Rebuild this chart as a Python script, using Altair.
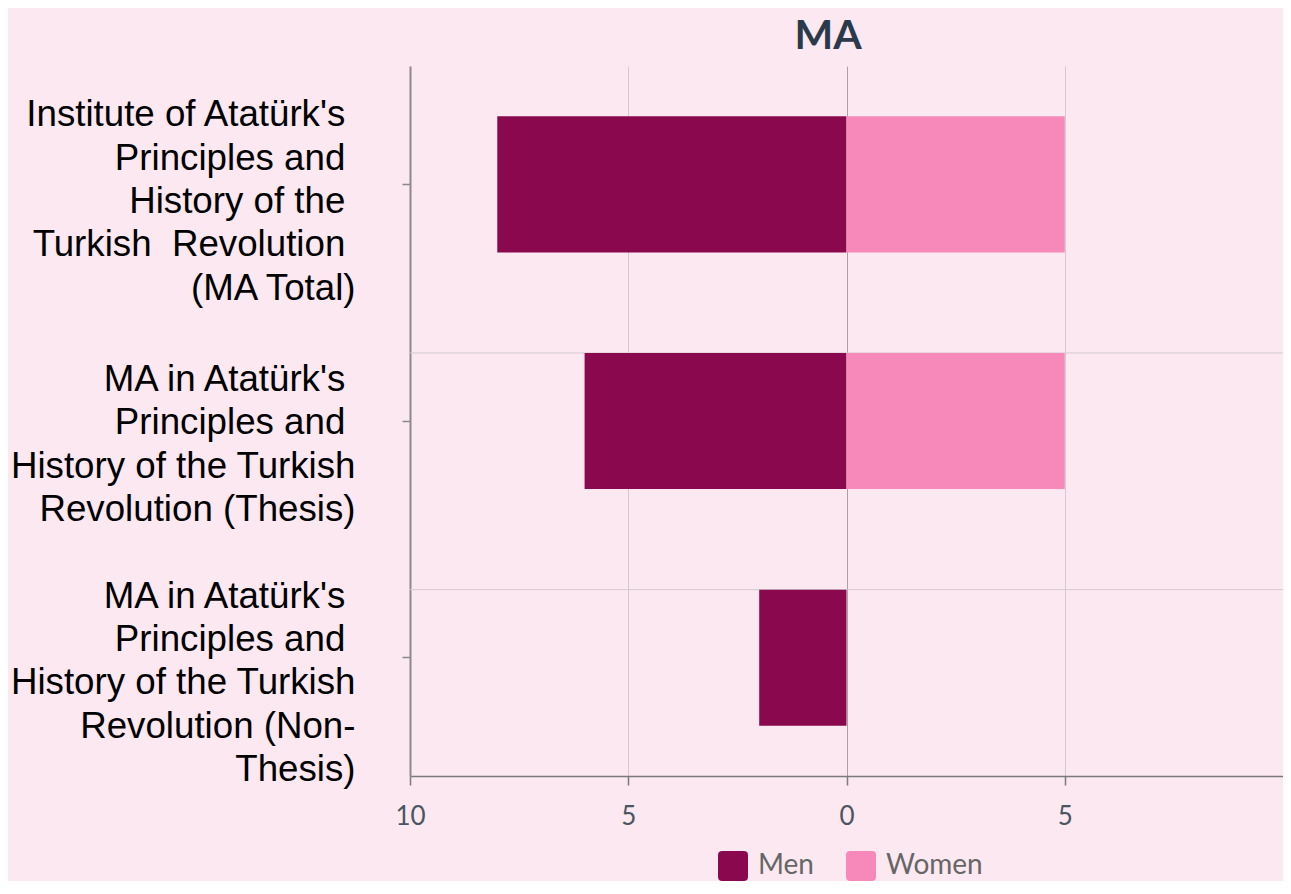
import altair as alt
import pandas as pd

SP = "\u00a0\u200b"
title_text = ["MA"]
categories = [
    f"Institute of Atatürk's{SP}|Principles and{SP}|History of the{SP}|Turkish\u00a0\u00a0Revolution{SP}|(MA Total)",
    f"MA in Atatürk's{SP}|Principles and{SP}|History of the Turkish|Revolution (Thesis)",
    f"MA in Atatürk's{SP}|Principles and{SP}|History of the Turkish|Revolution (Non-|Thesis)",
]
men = [8, 6, 2]
women = [5, 5, 0]
genders = ["Men", "Women"]
colors = ["#8a084d", "#f688ba"]
x_ticks = [-10, -5, 0, 5, 10]

rows = []
for c, m, w in zip(categories, men, women):
    rows.append({"category": c, "gender": "Men", "value": -m})
    rows.append({"category": c, "gender": "Women", "value": w})
df = pd.DataFrame(rows)
sep_df = pd.DataFrame({"category": categories[1:]})
title_df = pd.DataFrame({"t": title_text})

W, H = 873, 710

y_scale = alt.Scale(domain=categories, paddingInner=0.425, paddingOuter=0.2125)
y_axis = alt.Axis(
    title=None,
    labelExpr="split(datum.label, '|')",
    labelFont="Liberation Sans",
    labelFontSize=36.7,
    labelLineHeight=43.3,
    labelColor="#000000",
    labelAlign="right",
    labelBaseline="top",
    labelOffset={
        "condition": [
            {"test": "indexof(datum.value, 'MA Total') >= 0", "value": -87},
            {"test": "indexof(datum.value, 'Non-') >= 0", "value": -79},
        ],
        "value": -59,
    },
    labelPadding=47,
    labelLimit=0,
    tickSize=8,
    tickColor="#8a8a8a",
    tickWidth=1.5,
    domainColor="#8a8a8a",
    domainWidth=2,
    grid=False,
)

x_axis = alt.Axis(
    title=None,
    values=x_ticks,
    labelExpr="datum.value == 10 ? '' : format(abs(datum.value), 'd')",
    labelFont="Lato",
    labelFontSize=26,
    labelColor="#4b5561",
    labelPadding=18,
    labelFlush=False,
    tickSize=9,
    tickColor={"condition": {"test": "datum.value == 10", "value": "transparent"}, "value": "#7a7a7a"},
    tickWidth=1.5,
    domainColor="#7a7a7a",
    domainWidth=1.5,
    grid=True,
    gridColor={"condition": {"test": "datum.value == 0", "value": "#a9a1a6"}, "value": "#d3cacf"},
    gridWidth=1,
)

bars = alt.Chart(df).mark_bar().encode(
    x=alt.X("value:Q", scale=alt.Scale(domain=[-10, 10], nice=False), axis=x_axis),
    y=alt.Y("category:N", scale=y_scale, axis=y_axis),
    color=alt.Color(
        "gender:N",
        scale=alt.Scale(domain=genders, range=colors),
        legend=alt.Legend(
            title=None,
            orient="none",
            legendX=308,
            legendY=785,
            direction="horizontal",
            symbolType="M-1,-0.72Q-1,-1,-0.72,-1L0.72,-1Q1,-1,1,-0.72L1,0.72Q1,1,0.72,1L-0.72,1Q-1,1,-1,0.72Z",
            symbolSize=900,
            symbolStrokeWidth=0,
            symbolOpacity=1,
            labelFont="Lato",
            labelFontSize=28,
            labelColor="#666666",
            labelOffset=10,
            columnPadding=32,
            padding=0,
        ),
    ),
)

seps = alt.Chart(sep_df).mark_rule(color="#d3cacf", strokeWidth=1).encode(
    y=alt.Y("category:N", scale=y_scale, axis=y_axis, bandPosition=0),
    x=alt.value(0),
    x2=alt.value(W),
)

title = alt.Chart(title_df).mark_text(
    font="Lato", fontSize=41, fontWeight="bold", color="#2b3a4a",
    align="center", baseline="alphabetic",
).encode(text="t:N", x=alt.value(418), y=alt.value(-17))

chart = alt.layer(seps, bars, title).properties(
    width=W,
    height=H,
    autosize=alt.AutoSizeParams(type="none"),
    padding={"left": 402, "top": 58, "right": 0, "bottom": 105},
).configure(background="#fce8f0").configure_view(stroke=None)

chart.save("out.html", embed_options={"renderer": "svg", "actions": False})
